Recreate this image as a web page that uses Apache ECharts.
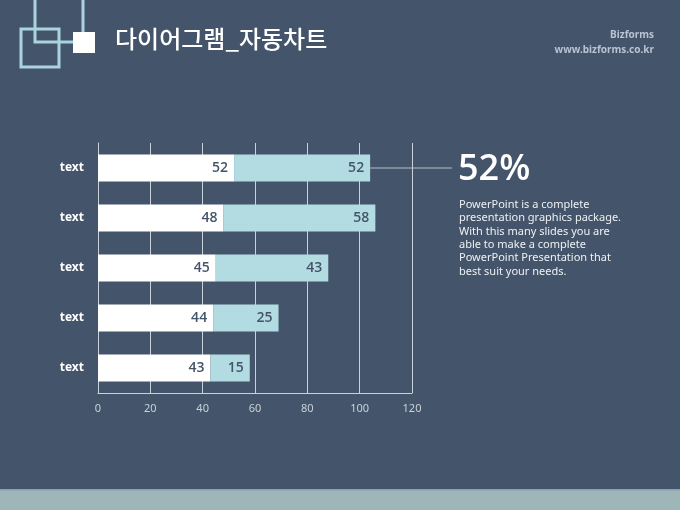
<!DOCTYPE html>
<html><head><meta charset="utf-8">
<script src="https://cdn.jsdelivr.net/npm/echarts@6/dist/echarts.min.js"></script>
<style>html,body{margin:0;padding:0;background:#44546a;}#c{width:680px;height:510px;}</style>
</head><body><div id="c"></div>
<script>
var categories = ['text','text','text','text','text'];
var seriesA = [43, 44, 45, 48, 52];
var seriesB = [15, 25, 43, 58, 52];
var xTicks = [0, 20, 40, 60, 80, 100, 120];
var highlight = '52%';
var paragraph = ['PowerPoint is a complete','presentation graphics package.','With this many slides you are','able to make a complete','PowerPoint Presentation that','best suit your needs.'];

var chart = echarts.init(document.getElementById('c'));
var font = '"Noto Sans", "Noto Sans CJK KR", sans-serif';
var labelStyle = {show:true, position:'insideRight', color:'#44546a', fontSize:14, fontWeight:600, fontFamily:'"Open Sans", "Noto Sans", sans-serif', distance:6};
chart.setOption({
  backgroundColor:'#44546a',
  animation:false,
  grid:{left:98, right:268, top:143, bottom:117},
  xAxis:{type:'value', min:0, max:120, interval:20,
    axisLine:{show:true, lineStyle:{color:'#c9d1da', width:1}},
    axisTick:{show:false},
    splitLine:{show:true, lineStyle:{color:'#c9d1da', width:1}},
    axisLabel:{color:'#c9d1da', fontSize:11, fontFamily:font, margin:10,
      formatter:function(v){return xTicks.indexOf(v)>=0? String(v):'';}}
  },
  yAxis:{type:'category', data:categories,
    axisLine:{show:true, lineStyle:{color:'#c9d1da', width:1}},
    axisTick:{show:false},
    axisLabel:{color:'#ffffff', fontSize:12, fontWeight:'bold', fontFamily:font, margin:14}
  },
  series:[
    {type:'bar', stack:'s', data:seriesA, barWidth:'54%', itemStyle:{color:'#ffffff'}, label:labelStyle},
    {type:'bar', stack:'s', data:seriesB, barWidth:'54%', itemStyle:{color:'#b2dbe2'}, label:labelStyle}
  ],
  graphic:[
    {id:'band', type:'rect', shape:{x:0, y:490, width:680, height:20}, style:{fill:'#9fb6b9'}},
    {id:'bandline', type:'rect', shape:{x:0, y:489, width:680, height:1.5}, style:{fill:'#8a9fb0'}},
    {id:'sq1', type:'rect', shape:{x:35, y:-5, width:48, height:47}, style:{fill:'none', stroke:'#a9d3dd', lineWidth:3}},
    {id:'sq2', type:'rect', shape:{x:21, y:29, width:38, height:38}, style:{fill:'none', stroke:'#a9d3dd', lineWidth:3}},
    {id:'sq3', type:'rect', shape:{x:73, y:32, width:22, height:21}, style:{fill:'#ffffff'}},
    {id:'title', type:'text', left:115, top:27, style:{text:'다이어그램_자동차트', fill:'#ffffff', font:'500 24px "Noto Sans CJK KR", sans-serif'}},
    {id:'biz', type:'text', right:26, top:30, style:{text:'Bizforms', fill:'#b8c3d3', font:'bold 10px "Noto Sans", sans-serif', textAlign:'right'}},
    {id:'url', type:'text', right:26, top:45, style:{text:'www.bizforms.co.kr', fill:'#b8c3d3', font:'bold 10px "Noto Sans", sans-serif', textAlign:'right'}},
    {id:'big', type:'text', left:458, top:152, style:{text:highlight, fill:'#ffffff', font:'600 36px "Open Sans", "Noto Sans", sans-serif'}},
    {id:'para', type:'text', left:459, top:198, style:{text:paragraph.join('\n'), fill:'#eef1f4', font:'11px "Noto Sans", sans-serif', lineHeight:13.4}}
  ]
});
// connector line from the top bar's end to the highlight text
var topIdx = categories.length - 1;
var endPt = chart.convertToPixel({gridIndex:0}, [seriesA[topIdx] + seriesB[topIdx], topIdx]);
chart.setOption({graphic:[{id:'conn', type:'line', shape:{x1:endPt[0], y1:endPt[1], x2:452, y2:endPt[1]}, style:{stroke:'#8f9ba8', lineWidth:1.5}}]});
</script></body></html>
